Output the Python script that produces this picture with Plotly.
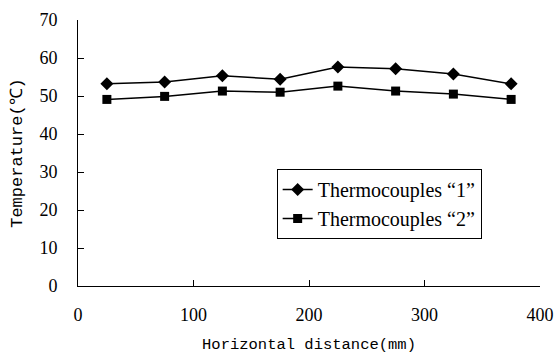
import plotly.graph_objects as go

x_mm = [25, 75, 125, 175, 225, 275, 325, 375]
t1 = [53.2, 53.7, 55.3, 54.4, 57.6, 57.2, 55.8, 53.2]
t2 = [49.1, 49.9, 51.3, 51.0, 52.6, 51.3, 50.5, 49.1]
name1 = "Thermocouples \u201c1\u201d"
name2 = "Thermocouples \u201c2\u201d"
x_ticks = [0, 100, 200, 300, 400]
y_ticks = [0, 10, 20, 30, 40, 50, 60, 70]

fig = go.Figure()
fig.add_trace(go.Scatter(x=x_mm, y=t1, name=name1, mode="lines+markers",
                         line=dict(color="black", width=1.5),
                         marker=dict(symbol="diamond", size=10, color="black")))
fig.add_trace(go.Scatter(x=x_mm, y=t2, name=name2, mode="lines+markers",
                         line=dict(color="black", width=1.5),
                         marker=dict(symbol="square", size=9, color="black")))

fig.update_layout(
    width=560, height=358,
    margin=dict(l=78, r=20, t=20, b=72),
    paper_bgcolor="white", plot_bgcolor="white",
    font=dict(family="Liberation Serif", color="black"),
    showlegend=True,
    legend=dict(x=0.43, y=0.44, xanchor="left", yanchor="top",
                bordercolor="black", borderwidth=1, bgcolor="white",
                font=dict(family="Liberation Serif", size=20),
                tracegroupgap=0, itemwidth=30),
    xaxis=dict(range=[0, 400], tickvals=x_ticks, ticktext=[str(v) for v in x_ticks],
               showgrid=False, zeroline=False, showline=True, linecolor="black", linewidth=1,
               ticks="inside", ticklen=6, tickcolor="black", ticklabelstandoff=12,
               automargin=False,
               tickfont=dict(family="Liberation Serif", size=18),
               title=dict(text="Horizontal distance(mm)",
                          font=dict(family="Liberation Mono", size=15.5), standoff=14)),
    yaxis=dict(range=[0, 70], tickvals=y_ticks, ticktext=[str(v) for v in y_ticks],
               showgrid=False, zeroline=False, showline=True, linecolor="black", linewidth=1,
               ticks="inside", ticklen=6, tickcolor="black", ticklabelstandoff=16,
               automargin=False,
               tickfont=dict(family="Liberation Serif", size=18),
               title=dict(text="Temperature(\u2103)",
                          font=dict(family="Liberation Mono", size=17), standoff=12)),
)

fig.write_html("out.html")
